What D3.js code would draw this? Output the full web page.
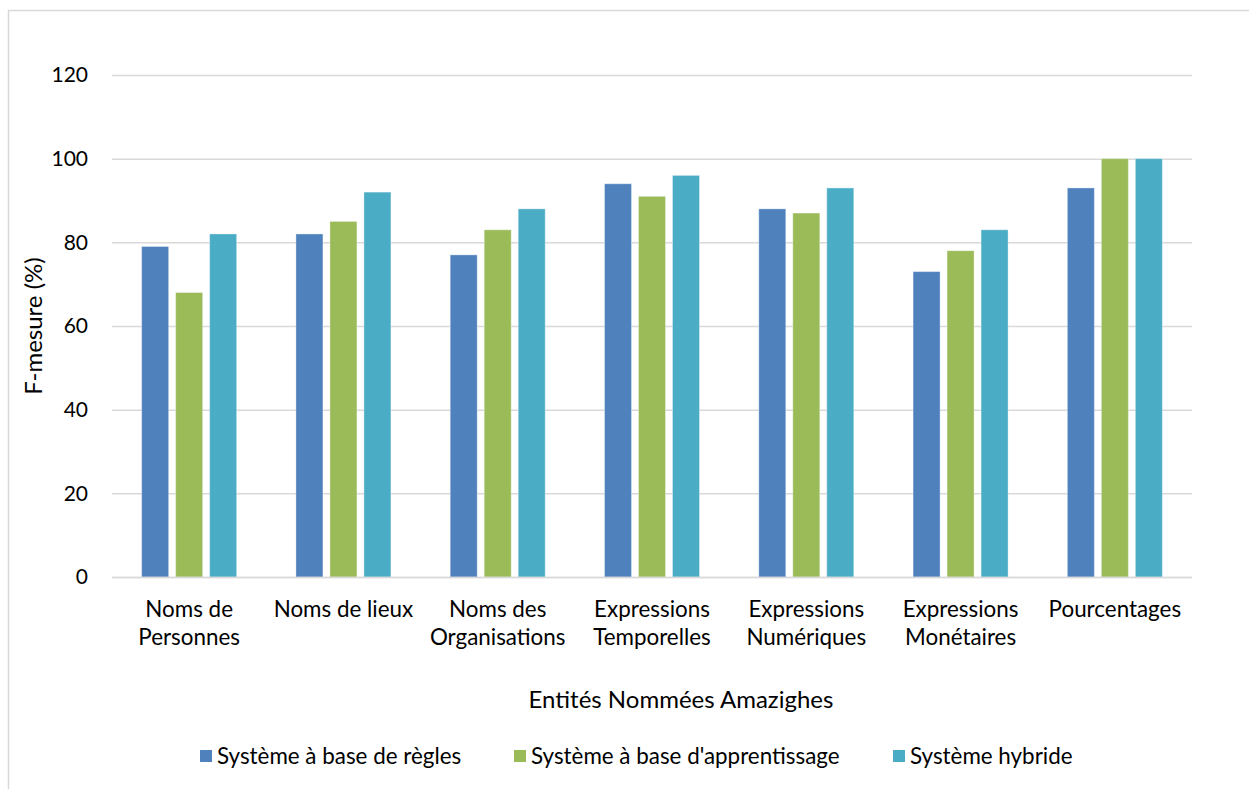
<!DOCTYPE html>
<html>
<head>
<meta charset="utf-8">
<script src="https://cdn.jsdelivr.net/npm/d3@7"></script>
<style>
  html, body { margin: 0; padding: 0; background: #fff; }
  svg { display: block; font-family: Lato, "Open Sans", sans-serif; }
</style>
</head>
<body>
<svg id="chart" width="1249" height="789"></svg>
<script>
// Catégories d'entités nommées (libellés sur deux lignes)
const categories = [
  ["Noms de", "Personnes"],
  ["Noms de lieux"],
  ["Noms des", "Organisations"],
  ["Expressions", "Temporelles"],
  ["Expressions", "Numériques"],
  ["Expressions", "Monétaires"],
  ["Pourcentages"]
];
const seriesNames = [
  "Système à base de règles",
  "Système à base d'apprentissage",
  "Système hybride"
];
const regles = [79, 82, 77, 94, 88, 73, 93];
const apprentissage = [68, 85, 83, 91, 87, 78, 100];
const hybride = [82, 92, 88, 96, 93, 83, 100];
const yTicks = [0, 20, 40, 60, 80, 100, 120];
const colors = ["#4f81bd", "#9bbb59", "#4bacc6"];

const seriesValues = [regles, apprentissage, hybride];
const catKeys = categories.map(c => c.join(" "));

const svg = d3.select("#chart");

// Cadre (bords gauche et haut)
svg.append("line").attr("x1", 8.5).attr("x2", 8.5).attr("y1", 10).attr("y2", 789)
  .attr("stroke", "#d9d9d9").attr("stroke-width", 1.5);
svg.append("line").attr("x1", 8).attr("x2", 1249).attr("y1", 10.5).attr("y2", 10.5)
  .attr("stroke", "#d9d9d9").attr("stroke-width", 1.5);

const plotLeft = 112, plotRight = 1192, plotTop = 75, plotBottom = 577;

const y = d3.scaleLinear().domain([0, 120]).range([plotBottom, plotTop]);
const x0 = d3.scaleBand().domain(catKeys).range([plotLeft, plotRight]).padding(0);
const x1 = d3.scaleBand().domain(d3.range(3)).range([0, x0.bandwidth()])
  .paddingInner(0.206).paddingOuter(0.872);

// Lignes de quadrillage
const yAxis = d3.axisLeft(y).tickValues(yTicks).tickSize(-(plotRight - plotLeft)).tickPadding(24);
const gy = svg.append("g").attr("transform", `translate(${plotLeft},0)`).call(yAxis);
gy.select(".domain").remove();
gy.selectAll(".tick line").attr("stroke", "#d9d9d9").attr("stroke-width", 1.5);
gy.selectAll(".tick text").attr("font-size", 21).attr("fill", "#000")
  .attr("font-family", "Lato, sans-serif");

// Barres
const groups = svg.append("g").selectAll("g")
  .data(catKeys)
  .join("g")
  .attr("transform", d => `translate(${x0(d)},0)`);

groups.selectAll("rect")
  .data((d, i) => seriesValues.map((vals, s) => ({ s, v: vals[i] })))
  .join("rect")
  .attr("x", d => x1(d.s))
  .attr("width", x1.bandwidth())
  .attr("y", d => y(d.v))
  .attr("height", d => y(0) - y(d.v))
  .attr("fill", d => colors[d.s])
  .attr("stroke", "#ffffff")
  .attr("stroke-opacity", 0.35)
  .attr("stroke-width", 1);

// Axe horizontal (ligne de base)
svg.append("line").attr("x1", plotLeft).attr("x2", plotRight)
  .attr("y1", plotBottom + 0.5).attr("y2", plotBottom + 0.5)
  .attr("stroke", "#d9d9d9").attr("stroke-width", 1.5);

// Libellés des catégories
const labels = svg.append("g").selectAll("text")
  .data(categories)
  .join("text")
  .attr("x", (d, i) => x0(catKeys[i]) + x0.bandwidth() / 2)
  .attr("y", 617)
  .attr("text-anchor", "middle")
  .attr("font-size", 22.4)
  .attr("fill", "#000");
labels.selectAll("tspan")
  .data(d => d)
  .join("tspan")
  .attr("x", function () { return d3.select(this.parentNode).attr("x"); })
  .attr("dy", (d, i) => i === 0 ? 0 : 28)
  .text(d => d);

// Titres des axes
svg.append("text")
  .attr("x", 681).attr("y", 708)
  .attr("text-anchor", "middle")
  .attr("font-size", 24)
  .attr("fill", "#000")
  .text("Entités Nommées Amazighes");

svg.append("text")
  .attr("transform", "translate(42,326) rotate(-90)")
  .attr("text-anchor", "middle")
  .attr("font-size", 24)
  .attr("fill", "#000")
  .text("F-mesure (%)");

// Légende
const legendX = [200, 514, 893];
const legend = svg.append("g").selectAll("g")
  .data(seriesNames)
  .join("g")
  .attr("transform", (d, i) => `translate(${legendX[i]},750)`);
legend.append("rect").attr("width", 12).attr("height", 12).attr("fill", (d, i) => colors[i]);
legend.append("text")
  .attr("x", 17).attr("y", 13.5)
  .attr("font-size", 22.4)
  .attr("fill", "#000")
  .text(d => d);
</script>
</body>
</html>
